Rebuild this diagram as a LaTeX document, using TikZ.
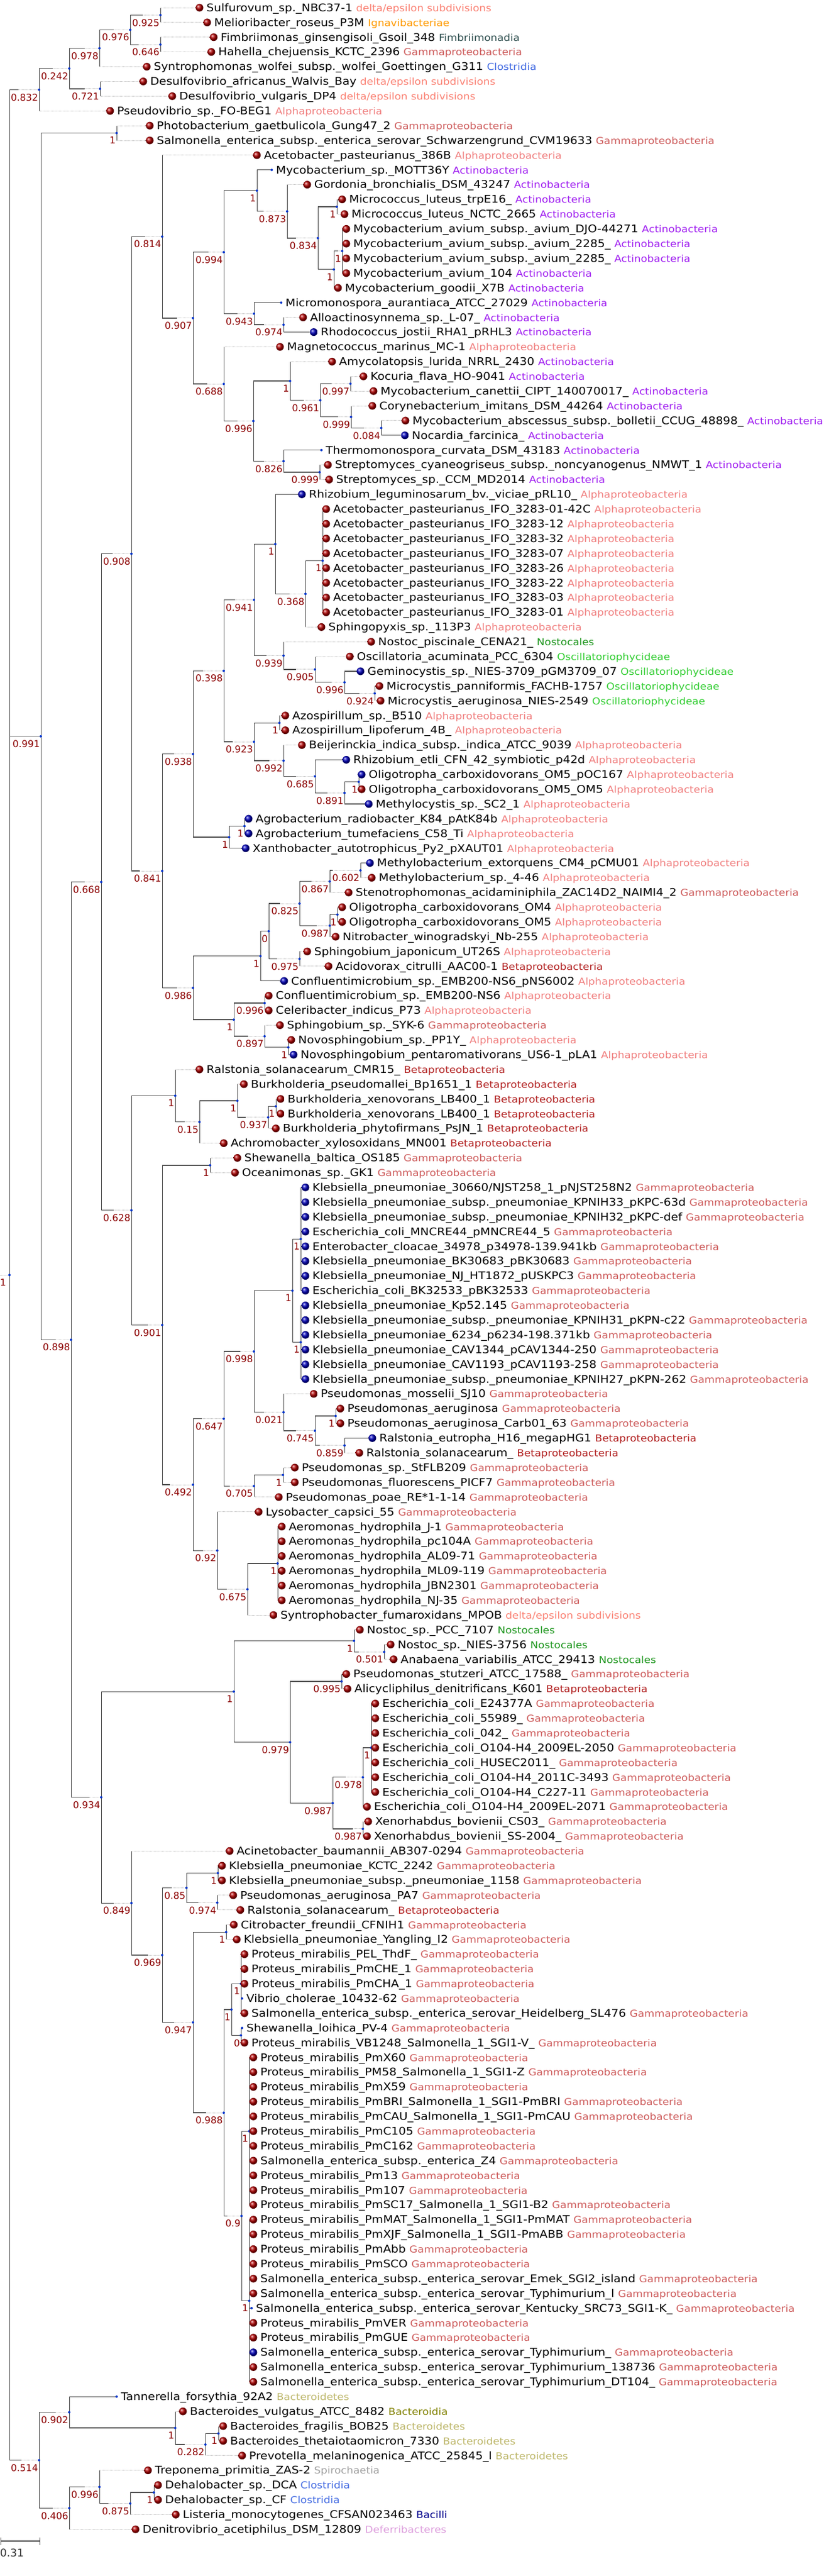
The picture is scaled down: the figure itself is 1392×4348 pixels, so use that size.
\documentclass[tikz,border=0pt]{standalone}
\usepackage{fontspec}
\setmainfont{DejaVu Sans}
\newfontfamily\nomefont{DejaVu Sans}[FakeStretch=1.1]
\usetikzlibrary{positioning}

\pgfdeclarelayer{fundo}
\pgfsetlayers{fundo,main}

% Cores das classes
\definecolor{delta}{HTML}{FA8072}
\definecolor{igna}{HTML}{FF9A00}
\definecolor{fimb}{HTML}{2F4F4F}
\definecolor{gama}{HTML}{CD5C5C}
\definecolor{clos}{HTML}{4169E1}
\definecolor{alfa}{HTML}{F08080}
\definecolor{acti}{HTML}{A020F0}
\definecolor{nost}{HTML}{1E961E}
\definecolor{osci}{HTML}{32CD32}
\definecolor{beta}{HTML}{B22222}
\definecolor{bact}{HTML}{BDB76B}
\definecolor{bdia}{HTML}{808000}
\definecolor{espi}{HTML}{A0A0A0}
\definecolor{baci}{HTML}{00008B}
\definecolor{defe}{HTML}{DDA0DD}
\definecolor{suporte}{HTML}{8B0000}
\definecolor{azulno}{HTML}{0033CC}

\tikzset{
	x=1pt, y=-1pt,
	no/.style={circle, fill=azulno, inner sep=0pt, minimum size=4pt},
	marca/.style={circle, fill=azulno, inner sep=0pt, minimum size=4pt},
	bolav/.style={circle, shading=ball, ball color=red!70!black, inner sep=0pt, minimum size=13pt},
	bolaz/.style={circle, shading=ball, ball color=blue!75!black, inner sep=0pt, minimum size=13pt},
	nome/.style={anchor=west, inner sep=0pt, text height=12.6pt, text depth=0pt, font=\nomefont\fontsize{17.8}{18}\selectfont},
	sup/.style={inner sep=0pt, text=suporte, font=\fontsize{16}{16}\selectfont},
	vert/.style={draw=black!75, line width=0.8pt},
	hor/.style={draw=black!70, line width=1.3pt},
	prol/.style={draw=black!30, line width=1pt, densely dotted},
}

\newcommand{\yr}[1]{13+(#1-1)*24.89}										% linha -> y
\newcommand{\classe}[2]{{\fontsize{16.1}{16}\selectfont\color{#1}#2}}
\newcommand{\cDelta}{\classe{delta}{delta/epsilon subdivisions}}
\newcommand{\cIgna}{\classe{igna}{Ignavibacteriae}}
\newcommand{\cFimb}{\classe{fimb}{Fimbriimonadia}}
\newcommand{\cGama}{\classe{gama}{Gammaproteobacteria}}
\newcommand{\cClos}{\classe{clos}{Clostridia}}
\newcommand{\cAlfa}{\classe{alfa}{Alphaproteobacteria}}
\newcommand{\cActi}{\classe{acti}{Actinobacteria}}
\newcommand{\cNost}{\classe{nost}{Nostocales}}
\newcommand{\cOsci}{\classe{osci}{Oscillatoriophycideae}}
\newcommand{\cBeta}{\classe{beta}{Betaproteobacteria}}
\newcommand{\cBact}{\classe{bact}{Bacteroidetes}}
\newcommand{\cBdia}{\classe{bdia}{Bacteroidia}}
\newcommand{\cEspi}{\classe{espi}{Spirochaetia}}
\newcommand{\cBaci}{\classe{baci}{Bacilli}}
\newcommand{\cDefe}{\classe{defe}{Deferribacteres}}

% nome, x, linha, suporte
\newcommand{\interno}[4]{%
	\node[no] (#1) at (#2,{\yr{#3}}) {};
	\node[sup, below left=5pt and 0pt of #1] (s#1) {#4};}
% pai, filho, fim do traço cheio
\newcommand{\ramo}[3]{%
	\draw[vert] (#1.center) -- (#1.center |- #2.center);
	\draw[hor] (#1.center |- #2.center) -- (#3,0 |- #2.center);
	\draw[prol] (#3,0 |- #2.center) -- (#2.center);}
% pai, folha, traço
\newcommand{\lig}[3]{%
	\draw[vert] (#1.center) -- (#1.center |- #2.center);
	\draw[#3] (#1.center |- #2.center) -- (#2);}
\newcommand{\ligacoes}{}
% número, x, bola, traço, pai, texto
\makeatletter
\newcommand{\folha}[6]{%
	\node[#3] (f#1) at (#2,{\yr{#1}}) {};
	\node[nome, right=5pt of f#1] (t#1) {#6};
	\g@addto@macro\ligacoes{\lig{#5}{f#1}{#4}}}
\makeatother

\begin{document}
\begin{tikzpicture}
	\useasboundingbox (0,0) rectangle (1392,4348);

	% Raiz
	\node[no] (r0) at (16,{\yr{86.94}}) {};
	\coordinate (r00) at (0,{\yr{86.94}});
	\node[sup, below left=5pt and 4pt of r0] (sr0) {1};

	% Nós internos
	\interno{n832}{66}{6.5625}{0.832}
	\interno{n242}{117}{5.125}{0.242}
	\interno{n978}{168}{3.75}{0.978}
	\interno{n976}{220}{2.5}{0.976}
	\interno{n925}{271}{1.5}{0.925}
	\interno{n646}{271}{3.5}{0.646}
	\interno{n721}{169}{6.5}{0.721}
	\interno{n991}{69}{50.41}{0.991}
	\interno{n1ph}{197}{9.5}{1}
	\interno{n898}{120}{91.33}{0.898}
	\interno{n668}{171}{60.29}{0.668}
	\interno{n908}{222}{38.03}{0.908}
	\interno{n814}{274}{16.52}{0.814}
	\interno{n907}{326}{22.047}{0.907}
	\interno{n994}{378}{17.578}{0.994}
	\interno{nmy1}{434}{13.406}{1}
	\interno{n873}{485}{14.8125}{0.873}
	\interno{n834}{537}{16.625}{0.834}
	\interno{nmc1}{569}{14.5}{1}
	\interno{nma1}{564}{18.75}{1}
	\interno{nma2}{578}{17.5}{1}
	\interno{n943}{429}{21.75}{0.943}
	\interno{n974}{479}{22.5}{0.974}
	\interno{n688}{378}{26.516}{0.688}
	\interno{n996a}{428}{29.03}{0.996}
	\interno{nam1}{490}{26.3125}{1}
	\interno{n961}{541}{27.625}{0.961}
	\interno{n997}{592}{26.5}{0.997}
	\interno{n999a}{593}{28.75}{0.999}
	\interno{n084}{644}{29.5}{0.084}
	\interno{n826}{479}{31.75}{0.826}
	\interno{n999b}{540}{32.5}{0.999}
	\interno{n841}{274}{59.54}{0.841}
	\interno{n938}{326}{51.61}{0.938}
	\interno{n398}{378}{45.97}{0.398}
	\interno{n941}{429}{41.156}{0.941}
	\interno{nac1}{465}{37.375}{1}
	\interno{n368}{516}{40.75}{0.368}
	\interno{nifo}{545}{38.5}{1}
	\interno{n939}{479}{44.9375}{0.939}
	\interno{n905}{532}{45.875}{0.905}
	\interno{n996b}{582}{46.75}{0.996}
	\interno{n924}{633}{47.5}{0.924}
	\interno{n923}{429}{50.78}{0.923}
	\interno{naz1}{472}{49.5}{1}
	\interno{n992}{479}{52.0625}{0.992}
	\interno{n685}{532}{53.125}{0.685}
	\interno{n891}{582}{54.25}{0.891}
	\interno{nol1}{606}{53.5}{1}
	\interno{nag1}{387}{57.25}{1}
	\interno{nag2}{413}{56.5}{1}
	\interno{n986}{326}{67.47}{0.986}
	\interno{nb1a}{440}{65.3125}{1}
	\interno{nz0}{454}{63.625}{0}
	\interno{n825}{506}{61.75}{0.825}
	\interno{n867}{557}{60.25}{0.867}
	\interno{n602}{609}{59.5}{0.602}
	\interno{n987a}{557}{63.25}{0.987}
	\interno{nol2}{570}{62.5}{1}
	\interno{n975}{506}{65.5}{0.975}
	\interno{nb1b}{395}{69.625}{1}
	\interno{n996c}{447}{68.5}{0.996}
	\interno{n897}{447}{70.75}{0.897}
	\interno{nnv1}{487}{71.5}{1}
	\interno{n628}{222}{82.55}{0.628}
	\interno{nra1}{296}{74.78}{1}
	\interno{n15}{337}{76.5625}{0.15}
	\interno{nbu1}{401}{75.125}{1}
	\interno{n937}{453}{76.25}{0.937}
	\interno{nbu2}{466}{75.5}{1}
	\interno{n901}{274}{90.33}{0.901}
	\interno{nsh1}{355}{79.5}{1}
	\interno{n492}{326}{101.16}{0.492}
	\interno{n647}{378}{96.69}{0.647}
	\interno{n998}{429}{92.125}{0.998}
	\interno{nkl1}{494}{88}{1}
	\interno{nkl2}{508}{84.5}{1}
	\interno{nkl3}{508}{91.5}{1}
	\interno{n021}{479}{96.25}{0.021}
	\interno{n745}{532}{97.5}{0.745}
	\interno{npa1}{567}{96.5}{1}
	\interno{n859}{582}{98.5}{0.859}
	\interno{n705}{429}{101.25}{0.705}
	\interno{nps1}{478}{100.5}{1}
	\interno{n92}{367}{105.625}{0.92}
	\interno{n675}{418}{108.25}{0.675}
	\interno{nae1}{469}{106.5}{1}
	\interno{n934}{171}{122.36}{0.934}
	\interno{nno1}{395}{115.19}{1}
	\interno{nno2}{598}{111.75}{1}
	\interno{n501}{649}{112.5}{0.501}
	\interno{n979}{490}{118.625}{0.979}
	\interno{n995}{577}{114.5}{0.995}
	\interno{n987b}{562}{122.75}{0.987}
	\interno{n978b}{613}{121}{0.978}
	\interno{nec1}{627}{119}{1}
	\interno{n987c}{613}{124.5}{0.987}
	\interno{n849}{222}{129.53}{0.849}
	\interno{n969}{274}{133.06}{0.969}
	\interno{n85}{315}{128.5}{0.85}
	\interno{nkb1}{368}{127.5}{1}
	\interno{n974b}{367}{129.5}{0.974}
	\interno{n947}{326}{137.625}{0.947}
	\interno{nci1}{382}{131.5}{1}
	\interno{n988}{378}{143.75}{0.988}
	\interno{npm1}{391}{136.75}{1}
	\interno{npm2}{407}{135}{1}
	\interno{npm0}{407}{138.5}{0}
	\interno{n9}{408}{150.75}{0.9}
	\interno{npma}{421}{145}{1}
	\interno{npmb}{421}{156.5}{1}
	\interno{n514}{66}{167.31}{0.514}
	\interno{n902}{117}{164.06}{0.902}
	\interno{nbc1}{296}{165.125}{1}
	\interno{n282}{347}{166.25}{0.282}
	\interno{nbc2}{369}{165.5}{1}
	\interno{n406}{117}{170.56}{0.406}
	\interno{n996e}{168}{169.125}{0.996}
	\interno{n875}{220}{170.25}{0.875}
	\interno{nde1}{260}{169.5}{1}

	% Folhas
	\folha{1}{337}{bolav}{prol}{n925}{Sulfurovum\_sp.\_NBC37-1 \cDelta}
	\folha{2}{350}{bolav}{prol}{n925}{Melioribacter\_roseus\_P3M \cIgna}
	\folha{3}{361}{bolav}{prol}{n646}{Fimbriimonas\_ginsengisoli\_Gsoil\_348 \cFimb}
	\folha{4}{357}{bolav}{prol}{n646}{Hahella\_chejuensis\_KCTC\_2396 \cGama}
	\folha{5}{248}{bolav}{prol}{n978}{Syntrophomonas\_wolfei\_subsp.\_wolfei\_Goettingen\_G311 \cClos}
	\folha{6}{242}{bolav}{prol}{n721}{Desulfovibrio\_africanus\_Walvis\_Bay \cDelta}
	\folha{7}{291}{bolav}{prol}{n721}{Desulfovibrio\_vulgaris\_DP4 \cDelta}
	\folha{8}{186}{bolav}{prol}{n832}{Pseudovibrio\_sp.\_FO-BEG1 \cAlfa}
	\folha{9}{253}{bolav}{prol}{n1ph}{Photobacterium\_gaetbulicola\_Gung47\_2 \cGama}
	\folha{10}{253}{bolav}{prol}{n1ph}{Salmonella\_enterica\_subsp.\_enterica\_serovar\_Schwarzengrund\_CVM19633 \cGama}
	\folha{11}{434}{bolav}{prol}{n814}{Acetobacter\_pasteurianus\_386B \cAlfa}
	\folha{12}{459}{marca}{hor}{nmy1}{Mycobacterium\_sp.\_MOTT36Y \cActi}
	\folha{13}{519}{bolav}{prol}{n873}{Gordonia\_bronchialis\_DSM\_43247 \cActi}
	\folha{14}{578}{bolav}{prol}{nmc1}{Micrococcus\_luteus\_trpE16\_ \cActi}
	\folha{15}{582}{bolav}{prol}{nmc1}{Micrococcus\_luteus\_NCTC\_2665 \cActi}
	\folha{16}{585}{bolav}{prol}{nma2}{Mycobacterium\_avium\_subsp.\_avium\_DJO-44271 \cActi}
	\folha{17}{585}{bolav}{prol}{nma2}{Mycobacterium\_avium\_subsp.\_avium\_2285\_ \cActi}
	\folha{18}{585}{bolav}{prol}{nma2}{Mycobacterium\_avium\_subsp.\_avium\_2285\_ \cActi}
	\folha{19}{585}{bolav}{prol}{nma2}{Mycobacterium\_avium\_104 \cActi}
	\folha{20}{571}{bolav}{prol}{nma1}{Mycobacterium\_goodii\_X7B \cActi}
	\folha{21}{475}{marca}{hor}{n943}{Micromonospora\_aurantiaca\_ATCC\_27029 \cActi}
	\folha{22}{512}{bolav}{prol}{n974}{Alloactinosynnema\_sp.\_L-07\_ \cActi}
	\folha{23}{530}{bolaz}{hor}{n974}{Rhodococcus\_jostii\_RHA1\_pRHL3 \cActi}
	\folha{24}{473}{bolav}{prol}{n688}{Magnetococcus\_marinus\_MC-1 \cAlfa}
	\folha{25}{561}{bolav}{prol}{nam1}{Amycolatopsis\_lurida\_NRRL\_2430 \cActi}
	\folha{26}{614}{bolav}{prol}{n997}{Kocuria\_flava\_HO-9041 \cActi}
	\folha{27}{631}{bolav}{prol}{n997}{Mycobacterium\_canettii\_CIPT\_140070017\_ \cActi}
	\folha{28}{629}{bolav}{prol}{n999a}{Corynebacterium\_imitans\_DSM\_44264 \cActi}
	\folha{29}{685}{bolav}{prol}{n084}{Mycobacterium\_abscessus\_subsp.\_bolletii\_CCUG\_48898\_ \cActi}
	\folha{30}{684}{bolaz}{hor}{n084}{Nocardia\_farcinica\_ \cActi}
	\folha{31}{543}{marca}{hor}{n826}{Thermomonospora\_curvata\_DSM\_43183 \cActi}
	\folha{32}{554}{bolav}{prol}{n999b}{Streptomyces\_cyaneogriseus\_subsp.\_noncyanogenus\_NMWT\_1 \cActi}
	\folha{33}{556}{bolav}{prol}{n999b}{Streptomyces\_sp.\_CCM\_MD2014 \cActi}
	\folha{34}{510}{bolaz}{hor}{nac1}{Rhizobium\_leguminosarum\_bv.\_viciae\_pRL10\_ \cAlfa}
	\folha{35}{551}{bolav}{prol}{nifo}{Acetobacter\_pasteurianus\_IFO\_3283-01-42C \cAlfa}
	\folha{36}{551}{bolav}{prol}{nifo}{Acetobacter\_pasteurianus\_IFO\_3283-12 \cAlfa}
	\folha{37}{551}{bolav}{prol}{nifo}{Acetobacter\_pasteurianus\_IFO\_3283-32 \cAlfa}
	\folha{38}{551}{bolav}{prol}{nifo}{Acetobacter\_pasteurianus\_IFO\_3283-07 \cAlfa}
	\folha{39}{551}{bolav}{prol}{nifo}{Acetobacter\_pasteurianus\_IFO\_3283-26 \cAlfa}
	\folha{40}{551}{bolav}{prol}{nifo}{Acetobacter\_pasteurianus\_IFO\_3283-22 \cAlfa}
	\folha{41}{551}{bolav}{prol}{nifo}{Acetobacter\_pasteurianus\_IFO\_3283-03 \cAlfa}
	\folha{42}{551}{bolav}{prol}{nifo}{Acetobacter\_pasteurianus\_IFO\_3283-01 \cAlfa}
	\folha{43}{543}{bolav}{prol}{n368}{Sphingopyxis\_sp.\_113P3 \cAlfa}
	\folha{44}{627}{bolav}{prol}{n939}{Nostoc\_piscinale\_CENA21\_ \cNost}
	\folha{45}{591}{bolav}{prol}{n905}{Oscillatoria\_acuminata\_PCC\_6304 \cOsci}
	\folha{46}{609}{bolaz}{hor}{n996b}{Geminocystis\_sp.\_NIES-3709\_pGM3709\_07 \cOsci}
	\folha{47}{641}{bolav}{prol}{n924}{Microcystis\_panniformis\_FACHB-1757 \cOsci}
	\folha{48}{643}{bolav}{prol}{n924}{Microcystis\_aeruginosa\_NIES-2549 \cOsci}
	\folha{49}{482}{bolav}{prol}{naz1}{Azospirillum\_sp.\_B510 \cAlfa}
	\folha{50}{482}{bolav}{prol}{naz1}{Azospirillum\_lipoferum\_4B\_ \cAlfa}
	\folha{51}{510}{bolav}{prol}{n992}{Beijerinckia\_indica\_subsp.\_indica\_ATCC\_9039 \cAlfa}
	\folha{52}{585}{bolaz}{hor}{n685}{Rhizobium\_etli\_CFN\_42\_symbiotic\_p42d \cAlfa}
	\folha{53}{611}{bolaz}{hor}{nol1}{Oligotropha\_carboxidovorans\_OM5\_pOC167 \cAlfa}
	\folha{54}{611}{bolav}{prol}{nol1}{Oligotropha\_carboxidovorans\_OM5\_OM5 \cAlfa}
	\folha{55}{623}{bolaz}{hor}{n891}{Methylocystis\_sp.\_SC2\_1 \cAlfa}
	\folha{56}{420}{bolaz}{hor}{nag2}{Agrobacterium\_radiobacter\_K84\_pAtK84b \cAlfa}
	\folha{57}{420}{bolaz}{hor}{nag2}{Agrobacterium\_tumefaciens\_C58\_Ti \cAlfa}
	\folha{58}{415}{bolaz}{hor}{nag1}{Xanthobacter\_autotrophicus\_Py2\_pXAUT01 \cAlfa}
	\folha{59}{625}{bolaz}{hor}{n602}{Methylobacterium\_extorquens\_CM4\_pCMU01 \cAlfa}
	\folha{60}{628}{bolav}{prol}{n602}{Methylobacterium\_sp.\_4-46 \cAlfa}
	\folha{61}{589}{bolav}{prol}{n867}{Stenotrophomonas\_acidaminiphila\_ZAC14D2\_NAIMI4\_2 \cGama}
	\folha{62}{578}{bolav}{prol}{nol2}{Oligotropha\_carboxidovorans\_OM4 \cAlfa}
	\folha{63}{578}{bolav}{prol}{nol2}{Oligotropha\_carboxidovorans\_OM5 \cAlfa}
	\folha{64}{567}{bolav}{prol}{n987a}{Nitrobacter\_winogradskyi\_Nb-255 \cAlfa}
	\folha{65}{519}{bolav}{prol}{n975}{Sphingobium\_japonicum\_UT26S \cAlfa}
	\folha{66}{555}{bolav}{prol}{n975}{Acidovorax\_citrulli\_AAC00-1 \cBeta}
	\folha{67}{480}{bolaz}{hor}{nb1a}{Confluentimicrobium\_sp.\_EMB200-NS6\_pNS6002 \cAlfa}
	\folha{68}{454}{bolav}{prol}{n996c}{Confluentimicrobium\_sp.\_EMB200-NS6 \cAlfa}
	\folha{69}{454}{bolav}{prol}{n996c}{Celeribacter\_indicus\_P73 \cAlfa}
	\folha{70}{473}{bolav}{prol}{n897}{Sphingobium\_sp.\_SYK-6 \cGama}
	\folha{71}{492}{bolav}{prol}{nnv1}{Novosphingobium\_sp.\_PP1Y\_ \cAlfa}
	\folha{72}{496}{bolaz}{hor}{nnv1}{Novosphingobium\_pentaromativorans\_US6-1\_pLA1 \cAlfa}
	\folha{73}{337}{bolav}{prol}{nra1}{Ralstonia\_solanacearum\_CMR15\_ \cBeta}
	\folha{74}{412}{bolav}{prol}{nbu1}{Burkholderia\_pseudomallei\_Bp1651\_1 \cBeta}
	\folha{75}{474}{bolav}{prol}{nbu2}{Burkholderia\_xenovorans\_LB400\_1 \cBeta}
	\folha{76}{474}{bolav}{prol}{nbu2}{Burkholderia\_xenovorans\_LB400\_1 \cBeta}
	\folha{77}{466}{bolav}{prol}{n937}{Burkholderia\_phytofirmans\_PsJN\_1 \cBeta}
	\folha{78}{378}{bolav}{prol}{n15}{Achromobacter\_xylosoxidans\_MN001 \cBeta}
	\folha{79}{401}{bolav}{prol}{nsh1}{Shewanella\_baltica\_OS185 \cGama}
	\folha{80}{397}{bolav}{prol}{nsh1}{Oceanimonas\_sp.\_GK1 \cGama}
	\folha{81}{516}{bolaz}{hor}{nkl2}{Klebsiella\_pneumoniae\_30660/NJST258\_1\_pNJST258N2 \cGama}
	\folha{82}{516}{bolaz}{hor}{nkl2}{Klebsiella\_pneumoniae\_subsp.\_pneumoniae\_KPNIH33\_pKPC-63d \cGama}
	\folha{83}{516}{bolaz}{hor}{nkl2}{Klebsiella\_pneumoniae\_subsp.\_pneumoniae\_KPNIH32\_pKPC-def \cGama}
	\folha{84}{516}{bolaz}{hor}{nkl2}{Escherichia\_coli\_MNCRE44\_pMNCRE44\_5 \cGama}
	\folha{85}{516}{bolaz}{hor}{nkl2}{Enterobacter\_cloacae\_34978\_p34978-139.941kb \cGama}
	\folha{86}{516}{bolaz}{hor}{nkl2}{Klebsiella\_pneumoniae\_BK30683\_pBK30683 \cGama}
	\folha{87}{516}{bolaz}{hor}{nkl2}{Klebsiella\_pneumoniae\_NJ\_HT1872\_pUSKPC3 \cGama}
	\folha{88}{516}{bolaz}{hor}{nkl2}{Escherichia\_coli\_BK32533\_pBK32533 \cGama}
	\folha{89}{516}{bolaz}{hor}{nkl3}{Klebsiella\_pneumoniae\_Kp52.145 \cGama}
	\folha{90}{516}{bolaz}{hor}{nkl3}{Klebsiella\_pneumoniae\_subsp.\_pneumoniae\_KPNIH31\_pKPN-c22 \cGama}
	\folha{91}{516}{bolaz}{hor}{nkl3}{Klebsiella\_pneumoniae\_6234\_p6234-198.371kb \cGama}
	\folha{92}{516}{bolaz}{hor}{nkl3}{Klebsiella\_pneumoniae\_CAV1344\_pCAV1344-250 \cGama}
	\folha{93}{516}{bolaz}{hor}{nkl3}{Klebsiella\_pneumoniae\_CAV1193\_pCAV1193-258 \cGama}
	\folha{94}{516}{bolaz}{hor}{nkl3}{Klebsiella\_pneumoniae\_subsp.\_pneumoniae\_KPNIH27\_pKPN-262 \cGama}
	\folha{95}{530}{bolav}{prol}{n021}{Pseudomonas\_mosselii\_SJ10 \cGama}
	\folha{96}{575}{bolav}{prol}{npa1}{Pseudomonas\_aeruginosa \cGama}
	\folha{97}{575}{bolav}{prol}{npa1}{Pseudomonas\_aeruginosa\_Carb01\_63 \cGama}
	\folha{98}{629}{bolaz}{hor}{n859}{Ralstonia\_eutropha\_H16\_megapHG1 \cBeta}
	\folha{99}{607}{bolav}{prol}{n859}{Ralstonia\_solanacearum\_ \cBeta}
	\folha{100}{498}{bolav}{prol}{nps1}{Pseudomonas\_sp.\_StFLB209 \cGama}
	\folha{101}{498}{bolav}{prol}{nps1}{Pseudomonas\_fluorescens\_PICF7 \cGama}
	\folha{102}{471}{bolav}{prol}{n705}{Pseudomonas\_poae\_RE*1-1-14 \cGama}
	\folha{103}{437}{bolav}{prol}{n92}{Lysobacter\_capsici\_55 \cGama}
	\folha{104}{476}{bolav}{prol}{nae1}{Aeromonas\_hydrophila\_J-1 \cGama}
	\folha{105}{476}{bolav}{prol}{nae1}{Aeromonas\_hydrophila\_pc104A \cGama}
	\folha{106}{476}{bolav}{prol}{nae1}{Aeromonas\_hydrophila\_AL09-71 \cGama}
	\folha{107}{476}{bolav}{prol}{nae1}{Aeromonas\_hydrophila\_ML09-119 \cGama}
	\folha{108}{476}{bolav}{prol}{nae1}{Aeromonas\_hydrophila\_JBN2301 \cGama}
	\folha{109}{476}{bolav}{prol}{nae1}{Aeromonas\_hydrophila\_NJ-35 \cGama}
	\folha{110}{462}{bolav}{prol}{n675}{Syntrophobacter\_fumaroxidans\_MPOB \cDelta}
	\folha{111}{608}{bolav}{prol}{nno2}{Nostoc\_sp.\_PCC\_7107 \cNost}
	\folha{112}{660}{bolav}{prol}{n501}{Nostoc\_sp.\_NIES-3756 \cNost}
	\folha{113}{665}{bolav}{prol}{n501}{Anabaena\_variabilis\_ATCC\_29413 \cNost}
	\folha{114}{585}{bolav}{prol}{n995}{Pseudomonas\_stutzeri\_ATCC\_17588\_ \cGama}
	\folha{115}{587}{bolav}{prol}{n995}{Alicycliphilus\_denitrificans\_K601 \cBeta}
	\folha{116}{634}{bolav}{prol}{nec1}{Escherichia\_coli\_E24377A \cGama}
	\folha{117}{634}{bolav}{prol}{nec1}{Escherichia\_coli\_55989\_ \cGama}
	\folha{118}{634}{bolav}{prol}{nec1}{Escherichia\_coli\_042\_ \cGama}
	\folha{119}{634}{bolav}{prol}{nec1}{Escherichia\_coli\_O104-H4\_2009EL-2050 \cGama}
	\folha{120}{634}{bolav}{prol}{nec1}{Escherichia\_coli\_HUSEC2011\_ \cGama}
	\folha{121}{634}{bolav}{prol}{nec1}{Escherichia\_coli\_O104-H4\_2011C-3493 \cGama}
	\folha{122}{634}{bolav}{prol}{nec1}{Escherichia\_coli\_O104-H4\_C227-11 \cGama}
	\folha{123}{620}{bolav}{prol}{n978b}{Escherichia\_coli\_O104-H4\_2009EL-2071 \cGama}
	\folha{124}{622}{bolav}{prol}{n987c}{Xenorhabdus\_bovienii\_CS03\_ \cGama}
	\folha{125}{620}{bolav}{prol}{n987c}{Xenorhabdus\_bovienii\_SS-2004\_ \cGama}
	\folha{126}{388}{bolav}{prol}{n849}{Acinetobacter\_baumannii\_AB307-0294 \cGama}
	\folha{127}{375}{bolav}{prol}{nkb1}{Klebsiella\_pneumoniae\_KCTC\_2242 \cGama}
	\folha{128}{375}{bolav}{prol}{nkb1}{Klebsiella\_pneumoniae\_subsp.\_pneumoniae\_1158 \cGama}
	\folha{129}{394}{bolav}{prol}{n974b}{Pseudomonas\_aeruginosa\_PA7 \cGama}
	\folha{130}{406}{bolav}{prol}{n974b}{Ralstonia\_solanacearum\_ \cBeta}
	\folha{131}{395}{bolav}{prol}{nci1}{Citrobacter\_freundii\_CFNIH1 \cGama}
	\folha{132}{400}{bolav}{prol}{nci1}{Klebsiella\_pneumoniae\_Yangling\_I2 \cGama}
	\folha{133}{413}{bolav}{prol}{npm2}{Proteus\_mirabilis\_PEL\_ThdF\_ \cGama}
	\folha{134}{413}{bolav}{prol}{npm2}{Proteus\_mirabilis\_PmCHE\_1 \cGama}
	\folha{135}{413}{bolav}{prol}{npm2}{Proteus\_mirabilis\_PmCHA\_1 \cGama}
	\folha{136}{409}{marca}{hor}{npm2}{Vibrio\_cholerae\_10432-62 \cGama}
	\folha{137}{413}{bolav}{prol}{npm2}{Salmonella\_enterica\_subsp.\_enterica\_serovar\_Heidelberg\_SL476 \cGama}
	\folha{138}{409}{marca}{hor}{npm0}{Shewanella\_loihica\_PV-4 \cGama}
	\folha{139}{413}{bolav}{prol}{npm0}{Proteus\_mirabilis\_VB1248\_Salmonella\_1\_SGI1-V\_ \cGama}
	\folha{140}{428}{bolav}{prol}{npma}{Proteus\_mirabilis\_PmX60 \cGama}
	\folha{141}{428}{bolav}{prol}{npma}{Proteus\_mirabilis\_PM58\_Salmonella\_1\_SGI1-Z \cGama}
	\folha{142}{428}{bolav}{prol}{npma}{Proteus\_mirabilis\_PmX59 \cGama}
	\folha{143}{428}{bolav}{prol}{npma}{Proteus\_mirabilis\_PmBRI\_Salmonella\_1\_SGI1-PmBRI \cGama}
	\folha{144}{428}{bolav}{prol}{npma}{Proteus\_mirabilis\_PmCAU\_Salmonella\_1\_SGI1-PmCAU \cGama}
	\folha{145}{428}{bolav}{prol}{npma}{Proteus\_mirabilis\_PmC105 \cGama}
	\folha{146}{428}{bolav}{prol}{npma}{Proteus\_mirabilis\_PmC162 \cGama}
	\folha{147}{428}{bolav}{prol}{npma}{Salmonella\_enterica\_subsp.\_enterica\_Z4 \cGama}
	\folha{148}{428}{bolav}{prol}{npma}{Proteus\_mirabilis\_Pm13 \cGama}
	\folha{149}{428}{bolav}{prol}{npma}{Proteus\_mirabilis\_Pm107 \cGama}
	\folha{150}{428}{bolav}{prol}{npma}{Proteus\_mirabilis\_PmSC17\_Salmonella\_1\_SGI1-B2 \cGama}
	\folha{151}{428}{bolav}{prol}{npmb}{Proteus\_mirabilis\_PmMAT\_Salmonella\_1\_SGI1-PmMAT \cGama}
	\folha{152}{428}{bolav}{prol}{npmb}{Proteus\_mirabilis\_PmXJF\_Salmonella\_1\_SGI1-PmABB \cGama}
	\folha{153}{428}{bolav}{prol}{npmb}{Proteus\_mirabilis\_PmAbb \cGama}
	\folha{154}{428}{bolav}{prol}{npmb}{Proteus\_mirabilis\_PmSCO \cGama}
	\folha{155}{428}{bolav}{prol}{npmb}{Salmonella\_enterica\_subsp.\_enterica\_serovar\_Emek\_SGI2\_island \cGama}
	\folha{156}{428}{bolav}{prol}{npmb}{Salmonella\_enterica\_subsp.\_enterica\_serovar\_Typhimurium\_l \cGama}
	\folha{157}{425}{marca}{hor}{npmb}{Salmonella\_enterica\_subsp.\_enterica\_serovar\_Kentucky\_SRC73\_SGI1-K\_ \cGama}
	\folha{158}{428}{bolav}{prol}{npmb}{Proteus\_mirabilis\_PmVER \cGama}
	\folha{159}{428}{bolav}{prol}{npmb}{Proteus\_mirabilis\_PmGUE \cGama}
	\folha{160}{428}{bolaz}{hor}{npmb}{Salmonella\_enterica\_subsp.\_enterica\_serovar\_Typhimurium\_ \cGama}
	\folha{161}{428}{bolav}{prol}{npmb}{Salmonella\_enterica\_subsp.\_enterica\_serovar\_Typhimurium\_138736 \cGama}
	\folha{162}{428}{bolav}{prol}{npmb}{Salmonella\_enterica\_subsp.\_enterica\_serovar\_Typhimurium\_DT104\_ \cGama}
	\folha{163}{197}{marca}{hor}{n902}{Tannerella\_forsythia\_92A2 \cBact}
	\folha{164}{309}{bolav}{prol}{nbc1}{Bacteroides\_vulgatus\_ATCC\_8482 \cBdia}
	\folha{165}{377}{bolav}{prol}{nbc2}{Bacteroides\_fragilis\_BOB25 \cBact}
	\folha{166}{377}{bolav}{prol}{nbc2}{Bacteroides\_thetaiotaomicron\_7330 \cBact}
	\folha{167}{409}{bolav}{prol}{n282}{Prevotella\_melaninogenica\_ATCC\_25845\_l \cBact}
	\folha{168}{250}{bolav}{prol}{n996e}{Treponema\_primitia\_ZAS-2 \cEspi}
	\folha{169}{267}{bolav}{prol}{nde1}{Dehalobacter\_sp.\_DCA \cClos}
	\folha{170}{267}{bolav}{prol}{nde1}{Dehalobacter\_sp.\_CF \cClos}
	\folha{171}{297}{bolav}{prol}{n875}{Listeria\_monocytogenes\_CFSAN023463 \cBaci}
	\folha{172}{229}{bolav}{prol}{n406}{Denitrovibrio\_acetiphilus\_DSM\_12809 \cDefe}

	% Ramos
	\begin{pgfonlayer}{fundo}
		\draw[prol] (r00) -- (r0.center);
		\ramo{r0}{n832}{31}
		\ramo{r0}{n991}{69}
		\ramo{r0}{n514}{36}
		\ramo{n832}{n242}{89}
		\ramo{n242}{n978}{143}
		\ramo{n978}{n976}{192}
		\ramo{n976}{n925}{241}
		\ramo{n976}{n646}{234}
		\ramo{n242}{n721}{143}
		\ramo{n991}{n1ph}{197}
		\ramo{n991}{n898}{94}
		\ramo{n898}{n668}{143}
		\ramo{n898}{n934}{151}
		\ramo{n668}{n908}{190}
		\ramo{n668}{n628}{192}
		\ramo{n908}{n814}{245}
		\ramo{n908}{n841}{236}
		\ramo{n814}{n907}{299}
		\ramo{n907}{n994}{352}
		\ramo{n907}{n688}{350}
		\ramo{n994}{nmy1}{434}
		\ramo{nmy1}{n873}{445}
		\ramo{n873}{n834}{500}
		\ramo{n834}{nmc1}{569}
		\ramo{n834}{nma1}{564}
		\ramo{nma1}{nma2}{571}
		\ramo{n994}{n943}{401}
		\ramo{n943}{n974}{446}
		\ramo{n688}{n996a}{401}
		\ramo{n996a}{nam1}{490}
		\ramo{nam1}{n961}{513}
		\ramo{n961}{n997}{560}
		\ramo{n961}{n999a}{571}
		\ramo{n999a}{n084}{615}
		\ramo{n996a}{n826}{446}
		\ramo{n826}{n999b}{540}
		\ramo{n841}{n938}{294}
		\ramo{n938}{n398}{343}
		\ramo{n398}{n941}{397}
		\ramo{n941}{nac1}{465}
		\ramo{nac1}{n368}{489}
		\ramo{n368}{nifo}{545}
		\ramo{n941}{n939}{450}
		\ramo{n939}{n905}{500}
		\ramo{n905}{n996b}{560}
		\ramo{n996b}{n924}{607}
		\ramo{n398}{n923}{393}
		\ramo{n923}{naz1}{472}
		\ramo{n923}{n992}{455}
		\ramo{n992}{n685}{500}
		\ramo{n685}{n891}{553}
		\ramo{n891}{nol1}{606}
		\ramo{n938}{nag1}{387}
		\ramo{nag1}{nag2}{413}
		\ramo{n841}{n986}{299}
		\ramo{n986}{nb1a}{440}
		\ramo{nb1a}{nz0}{454}
		\ramo{nz0}{n825}{473}
		\ramo{n825}{n867}{526}
		\ramo{n867}{n602}{562}
		\ramo{n825}{n987a}{535}
		\ramo{n987a}{nol2}{570}
		\ramo{nz0}{n975}{468}
		\ramo{n986}{nb1b}{395}
		\ramo{nb1b}{n996c}{447}
		\ramo{nb1b}{n897}{419}
		\ramo{n897}{nnv1}{487}
		\ramo{n628}{nra1}{296}
		\ramo{nra1}{n15}{312}
		\ramo{n15}{nbu1}{401}
		\ramo{nbu1}{n937}{415}
		\ramo{n937}{nbu2}{466}
		\ramo{n628}{n901}{250}
		\ramo{n901}{nsh1}{355}
		\ramo{n901}{n492}{287}
		\ramo{n492}{n647}{341}
		\ramo{n647}{n998}{406}
		\ramo{n998}{nkl1}{494}
		\ramo{nkl1}{nkl2}{508}
		\ramo{nkl1}{nkl3}{508}
		\ramo{n998}{n021}{446}
		\ramo{n021}{n745}{500}
		\ramo{n745}{npa1}{567}
		\ramo{n745}{n859}{540}
		\ramo{n647}{n705}{388}
		\ramo{n705}{nps1}{478}
		\ramo{n492}{n92}{343}
		\ramo{n92}{n675}{383}
		\ramo{n675}{nae1}{469}
		\ramo{n934}{nno1}{395}
		\ramo{nno1}{nno2}{598}
		\ramo{nno2}{n501}{606}
		\ramo{nno1}{n979}{490}
		\ramo{n979}{n995}{577}
		\ramo{n979}{n987b}{562}
		\ramo{n987b}{n978b}{584}
		\ramo{n978b}{nec1}{627}
		\ramo{n987b}{n987c}{596}
		\ramo{n934}{n849}{192}
		\ramo{n849}{n969}{250}
		\ramo{n969}{n85}{290}
		\ramo{n85}{nkb1}{368}
		\ramo{n85}{n974b}{335}
		\ramo{n969}{n947}{294}
		\ramo{n947}{nci1}{382}
		\ramo{n947}{n988}{348}
		\ramo{n988}{npm1}{391}
		\ramo{npm1}{npm2}{407}
		\ramo{npm1}{npm0}{407}
		\ramo{n988}{n9}{384}
		\ramo{n9}{npma}{421}
		\ramo{n9}{npmb}{421}
		\ramo{n514}{n902}{94}
		\ramo{n902}{nbc1}{296}
		\ramo{nbc1}{n282}{312}
		\ramo{n282}{nbc2}{369}
		\ramo{n514}{n406}{89}
		\ramo{n406}{n996e}{143}
		\ramo{n996e}{n875}{183}
		\ramo{n875}{nde1}{260}
		\ligacoes
	\end{pgfonlayer}

	% Escala
	\draw[black!80, line width=1.4pt] (1,4289) -- (67,4289);
	\draw[black!80, line width=1pt] (1,4283) -- (1,4296);
	\draw[black!80, line width=1pt] (67,4283) -- (67,4296);
	\node[anchor=north west, inner sep=0pt, text=black!80, font=\fontsize{18}{18}\selectfont] (esc) at (0,4302) {0.31};
\end{tikzpicture}
\end{document}
